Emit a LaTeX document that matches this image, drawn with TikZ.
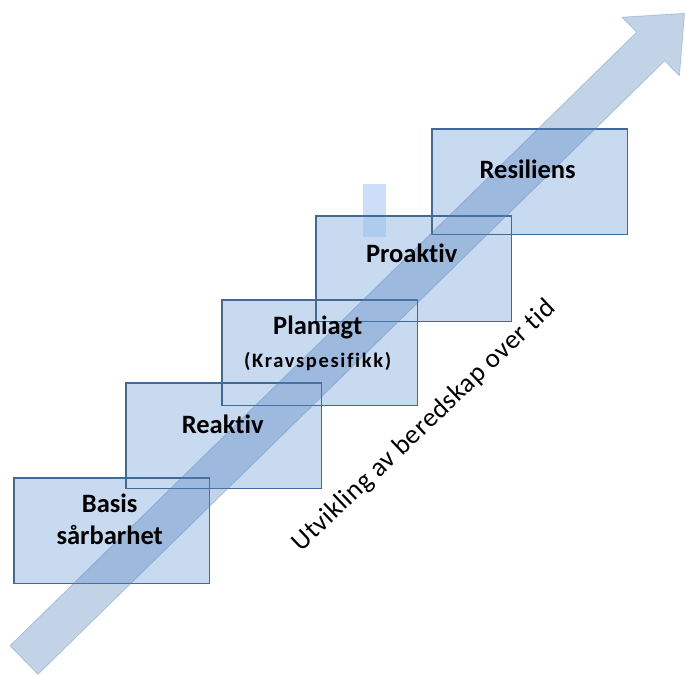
\documentclass[tikz,border=0pt]{standalone}
\usepackage{fontspec}
\setmainfont[Ligatures={NoCommon,NoContextual}]{Carlito}
\newfontfamily\spacedfont[LetterSpace=8,Ligatures={NoCommon,NoContextual}]{Carlito}
\newfontfamily\axisfont[LetterSpace=2,Ligatures={NoCommon,NoContextual}]{Carlito}
\definecolor{boxfill}{RGB}{199,218,240}
\definecolor{boxline}{RGB}{66,106,152}
\definecolor{arrowc}{RGB}{79,129,189}
\definecolor{markc}{RGB}{144,185,240}
\begin{document}
\begin{tikzpicture}[x=1pt,y=-1pt,
  stepbox/.style={fill=boxfill, draw=none, minimum width=195pt, minimum height=105pt, inner sep=0pt, anchor=north west},
  boxborder/.style={draw=boxline, line width=1.4pt},
  lbl/.style={font=\fontsize{26.5}{32}\selectfont\bfseries, align=center, inner sep=0pt, text=black},
  sublbl/.style={font=\fontsize{20.5}{24}\selectfont\bfseries\spacedfont, inner sep=0pt, text=black},
  bigarrow/.style={fill=arrowc, fill opacity=0.35, draw=arrowc, draw opacity=0.35, line width=0.8pt, line join=round}]
\useasboundingbox (0,0) rectangle (685,675);
% boxes (fills)
\node[stepbox] (basis) at (14,478) {};
\node[stepbox] (reaktiv) at (126,383) {};
\node[stepbox] (planlagt) at (222,300) {};
\node[stepbox] (proaktiv) at (316,216) {};
\node[stepbox] (resiliens) at (432,129) {};
% light marker
\node[fill=markc, fill opacity=0.45, minimum width=23pt, minimum height=53pt, inner sep=0pt, anchor=north west] (mark) at (363,184) {};
% borders
\foreach \n in {basis,reaktiv,planlagt,proaktiv,resiliens}
  \draw[boxborder] (\n.south west) rectangle (\n.north east);
% arrow
\coordinate (t1) at (10.0,645.7);
\coordinate (t2) at (38.0,674.3);
\coordinate (j1) at (636.7,32.2);
\coordinate (j2) at (664.7,60.8);
\coordinate (b1) at (622.0,17.2);
\coordinate (b2) at (679.4,75.8);
\coordinate (tip) at (684.6,13.3);
\path[bigarrow] (t1) -- (j1) -- (b1) -- (tip) -- (b2) -- (j2) -- (t2) -- cycle;
% labels
\node[lbl] (basisT) at ([xshift=-2pt,yshift=11pt]basis.center) {Basis\\sårbarhet};
\node[lbl] (reaktivT) at ([xshift=-1pt,yshift=11pt]reaktiv.center) {Reaktiv};
\node[lbl] (planlagtT) at ([xshift=-2pt,yshift=25pt]planlagt.center) {Planiagt};
\node[sublbl] (kravT) at ([xshift=-2pt,yshift=-9pt]planlagt.center) {(Kravspesifikk)};
\node[lbl] (proaktivT) at ([xshift=-2pt,yshift=15pt]proaktiv.center) {Proaktiv};
\node[lbl] (resiliensT) at ([xshift=-2pt,yshift=12pt]resiliens.center) {Resiliens};
\node[rotate=43.5, font=\fontsize{27}{30}\selectfont\axisfont, inner sep=0pt] (axis) at (424,426) {Utvikling av beredskap over tid};
\end{tikzpicture}
\end{document}
